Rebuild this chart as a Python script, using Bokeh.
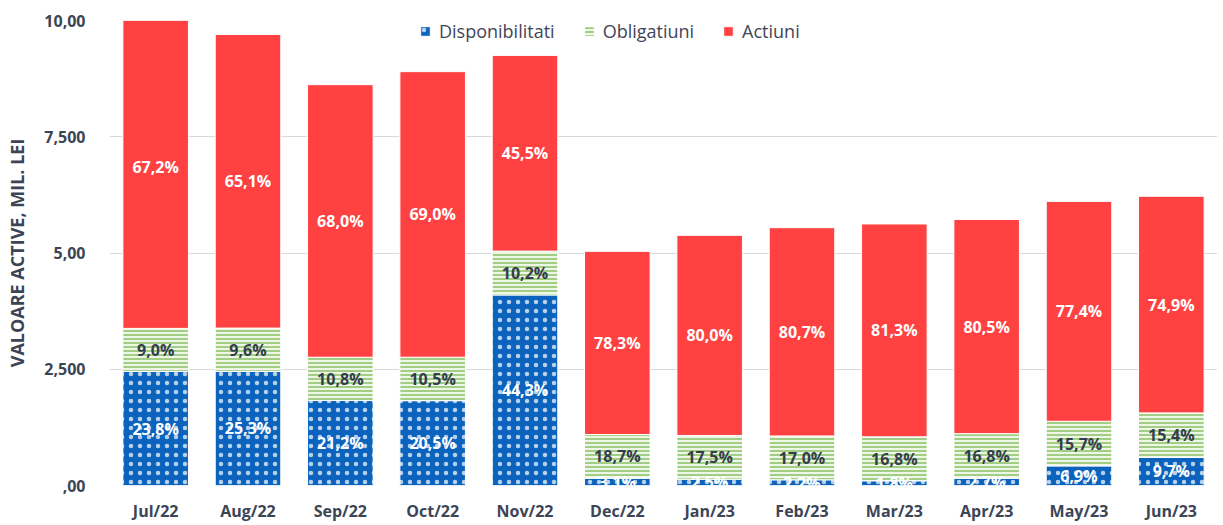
from bokeh.plotting import figure
from bokeh.models import ColumnDataSource, Range1d, FixedTicker, Legend, LegendItem, FactorRange
from bokeh.embed import file_html
from bokeh.resources import INLINE
from bokeh.core.properties import value

months = ["Jul/22", "Aug/22", "Sep/22", "Oct/22", "Nov/22", "Dec/22",
          "Jan/23", "Feb/23", "Mar/23", "Apr/23", "May/23", "Jun/23"]
totals = [10300, 9700, 8620, 8900, 9250, 5030, 5380, 5550, 5630, 5720, 6110, 6220]
disp_pct = [23.8, 25.3, 21.2, 20.5, 44.3, 3.1, 2.5, 2.2, 1.8, 2.7, 6.9, 9.7]
oblig_pct = [9.0, 9.6, 10.8, 10.5, 10.2, 18.7, 17.5, 17.0, 16.8, 16.8, 15.7, 15.4]
act_pct = [67.2, 65.1, 68.0, 69.0, 45.5, 78.3, 80.0, 80.7, 81.3, 80.5, 77.4, 74.9]
y_ticks = [0, 2500, 5000, 7500, 10000]
y_tick_labels = [",00", "2,500", "5,00", "7,500", "10,00"]

def fmt(v):
    return f"{v:.1f}%".replace(".", ",")

d_top = [t * d / 100 for t, d in zip(totals, disp_pct)]
o_top = [dt + t * o / 100 for dt, t, o in zip(d_top, totals, oblig_pct)]
a_top = [ot + t * a / 100 for ot, t, a in zip(o_top, totals, act_pct)]
zeros = [0] * len(months)

src = ColumnDataSource(dict(
    x=months, d0=zeros, d1=d_top, o0=d_top, o1=o_top, a0=o_top, a1=a_top,
    dm=[(a + b) / 2 for a, b in zip(zeros, d_top)],
    om=[(a + b) / 2 for a, b in zip(d_top, o_top)],
    am=[(a + b) / 2 for a, b in zip(o_top, a_top)],
    dl=[fmt(v) for v in disp_pct],
    ol=[fmt(v) for v in oblig_pct],
    al=[fmt(v) for v in act_pct],
))

FONT = "Open Sans"
p = figure(width=1223, height=525, x_range=FactorRange(*months), y_range=Range1d(0, 10000),
           output_backend="svg", toolbar_location=None,
           min_border_left=109, min_border_right=6, min_border_top=20, min_border_bottom=40)
p.outline_line_color = None
p.background_fill_color = "white"
p.border_fill_color = "white"

W = 0.71
r1 = p.vbar(x="x", bottom="d0", top="d1", width=W, source=src, fill_color="#0B63BE",
            line_color="white", line_width=1, hatch_pattern="dot", hatch_color="white",
            hatch_scale=9, hatch_weight=0, hatch_alpha=0.7)
r2 = p.vbar(x="x", bottom="o0", top="o1", width=W, source=src, fill_color="#EEF6E6",
            line_color="white", line_width=1, hatch_pattern="horizontal_line",
            hatch_color="#8CC46A", hatch_scale=4, hatch_weight=1.6)
r3 = p.vbar(x="x", bottom="a0", top="a1", width=W, source=src, fill_color="#FF4141",
            line_color="white", line_width=1)

common = dict(source=src, text_align="center", text_baseline="middle",
              text_font=value(FONT), text_font_style="bold", text_font_size="16px")
p.text(x="x", y="dm", text="dl", text_color="white", **common)
p.text(x="x", y="om", text="ol", text_color="#333D4D", **common)
p.text(x="x", y="am", text="al", text_color="white", **common)

p.xgrid.grid_line_color = None
p.ygrid.grid_line_color = "#D9D9D9"
p.ygrid.grid_line_width = 1

p.yaxis.ticker = FixedTicker(ticks=y_ticks)
p.yaxis.major_label_overrides = {t: l for t, l in zip(y_ticks, y_tick_labels)}
for ax in (p.xaxis[0], p.yaxis[0]):
    ax.axis_line_color = None
    ax.major_tick_line_color = None
    ax.minor_tick_line_color = None
    ax.major_label_text_font = FONT
    ax.major_label_text_font_style = "bold"
    ax.major_label_text_font_size = "16px"
    ax.major_label_text_color = "#3B4556"
p.yaxis.major_label_standoff = 18
p.xaxis.major_label_standoff = 8
p.yaxis.axis_label = "VALOARE ACTIVE, MIL. LEI"
p.yaxis.axis_label_text_font = FONT
p.yaxis.axis_label_text_font_style = "bold"
p.yaxis.axis_label_text_font_size = "18px"
p.yaxis.axis_label_text_color = "#3B4556"
p.yaxis.axis_label_standoff = 12

legend = Legend(items=[LegendItem(label="Disponibilitati", renderers=[r1]),
                       LegendItem(label="Obligatiuni", renderers=[r2]),
                       LegendItem(label="Actiuni", renderers=[r3])],
                orientation="horizontal", location=(308, 440),
                background_fill_alpha=0, border_line_alpha=0,
                label_text_font=FONT, label_text_font_size="18px", label_text_color="#414657",
                label_height=18, glyph_width=12, glyph_height=12, spacing=28, padding=2, margin=0,
                label_standoff=8)
p.add_layout(legend)

open("out.html", "w").write(file_html(p, INLINE))
